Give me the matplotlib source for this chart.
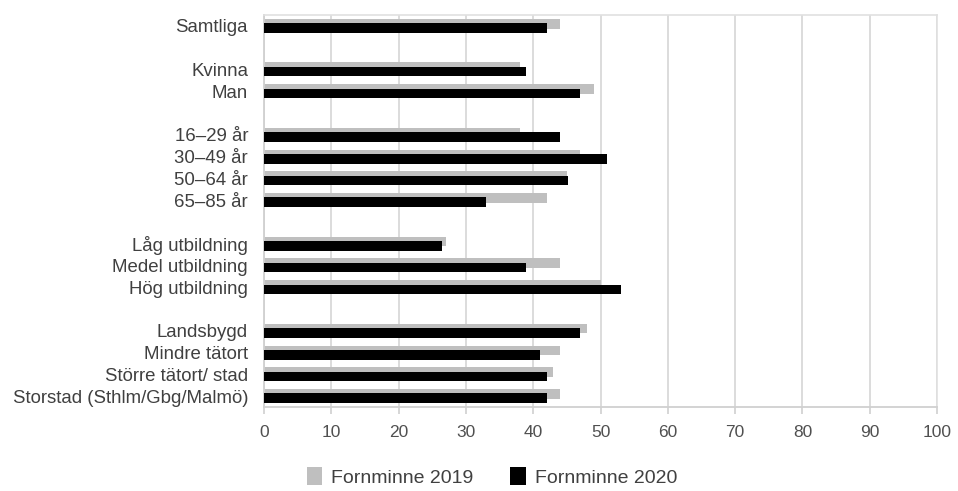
import numpy as np
import matplotlib
matplotlib.use("Agg")
import matplotlib.pyplot as plt

plt.rcParams['font.family'] = ['Liberation Sans', 'DejaVu Sans']

categories = ["Samtliga", "", "Kvinna", "Man", "",
              "16–29 år", "30–49 år", "50–64 år", "65–85 år", "",
              "Låg utbildning", "Medel utbildning", "Hög utbildning", "",
              "Landsbygd", "Mindre tätort", "Större tätort/ stad",
              "Storstad (Sthlm/Gbg/Malmö)"]
nan = np.nan
v2019 = [44, nan, 38, 49, nan, 38, 47, 45, 42, nan, 27, 44, 50, nan, 48, 44, 43, 44]
v2020 = [42, nan, 39, 47, nan, 44, 51, 45.1, 33, nan, 26.5, 39, 53, nan, 47, 41, 42, 42]
series_names = ["Fornminne 2019", "Fornminne 2020"]
xticks = list(range(0, 101, 10))

fig = plt.figure(figsize=(9.58, 4.91), dpi=100)
ax = fig.add_axes([264/958, 1-407/491, (937-264)/958, (407-15)/491])

y = np.arange(len(categories))
h = 0.44
off = 0.1
ax.barh(y - off, v2019, height=h, color="#bfbfbf", label=series_names[0], zorder=2)
ax.barh(y + off, v2020, height=h, color="#000000", label=series_names[1], zorder=3)

ax.set_ylim(len(categories) - 0.5, -0.5)
ax.set_xlim(0, 100)
ax.set_xticks(xticks)
ax.set_yticks(y)
ax.set_yticklabels(categories, fontsize=13.4, color="#404040")
ax.tick_params(axis='y', length=0, pad=11.5)
ax.tick_params(axis='x', length=5, width=1.2, color="#d0d0d0", labelsize=12.5,
               labelcolor="#505050", pad=8)
ax.grid(axis='x', color="#d9d9d9", linewidth=1.3, zorder=0)
ax.set_axisbelow(True)
for side in ["top", "right"]:
    ax.spines[side].set_color("#e0e0e0")
    ax.spines[side].set_linewidth(1.2)
for side in ["left", "bottom"]:
    ax.spines[side].set_color("#d0d0d0")
    ax.spines[side].set_linewidth(1.3)

handles, labels = ax.get_legend_handles_labels()
fig.legend(handles, labels, loc="center", bbox_to_anchor=(492/958, 1-477/491),
           ncol=2, frameon=False, fontsize=14, handlelength=0.8, handleheight=1.0,
           handletextpad=0.45, columnspacing=1.9, labelcolor="#404040")

fig.savefig("out.png", dpi=100)
